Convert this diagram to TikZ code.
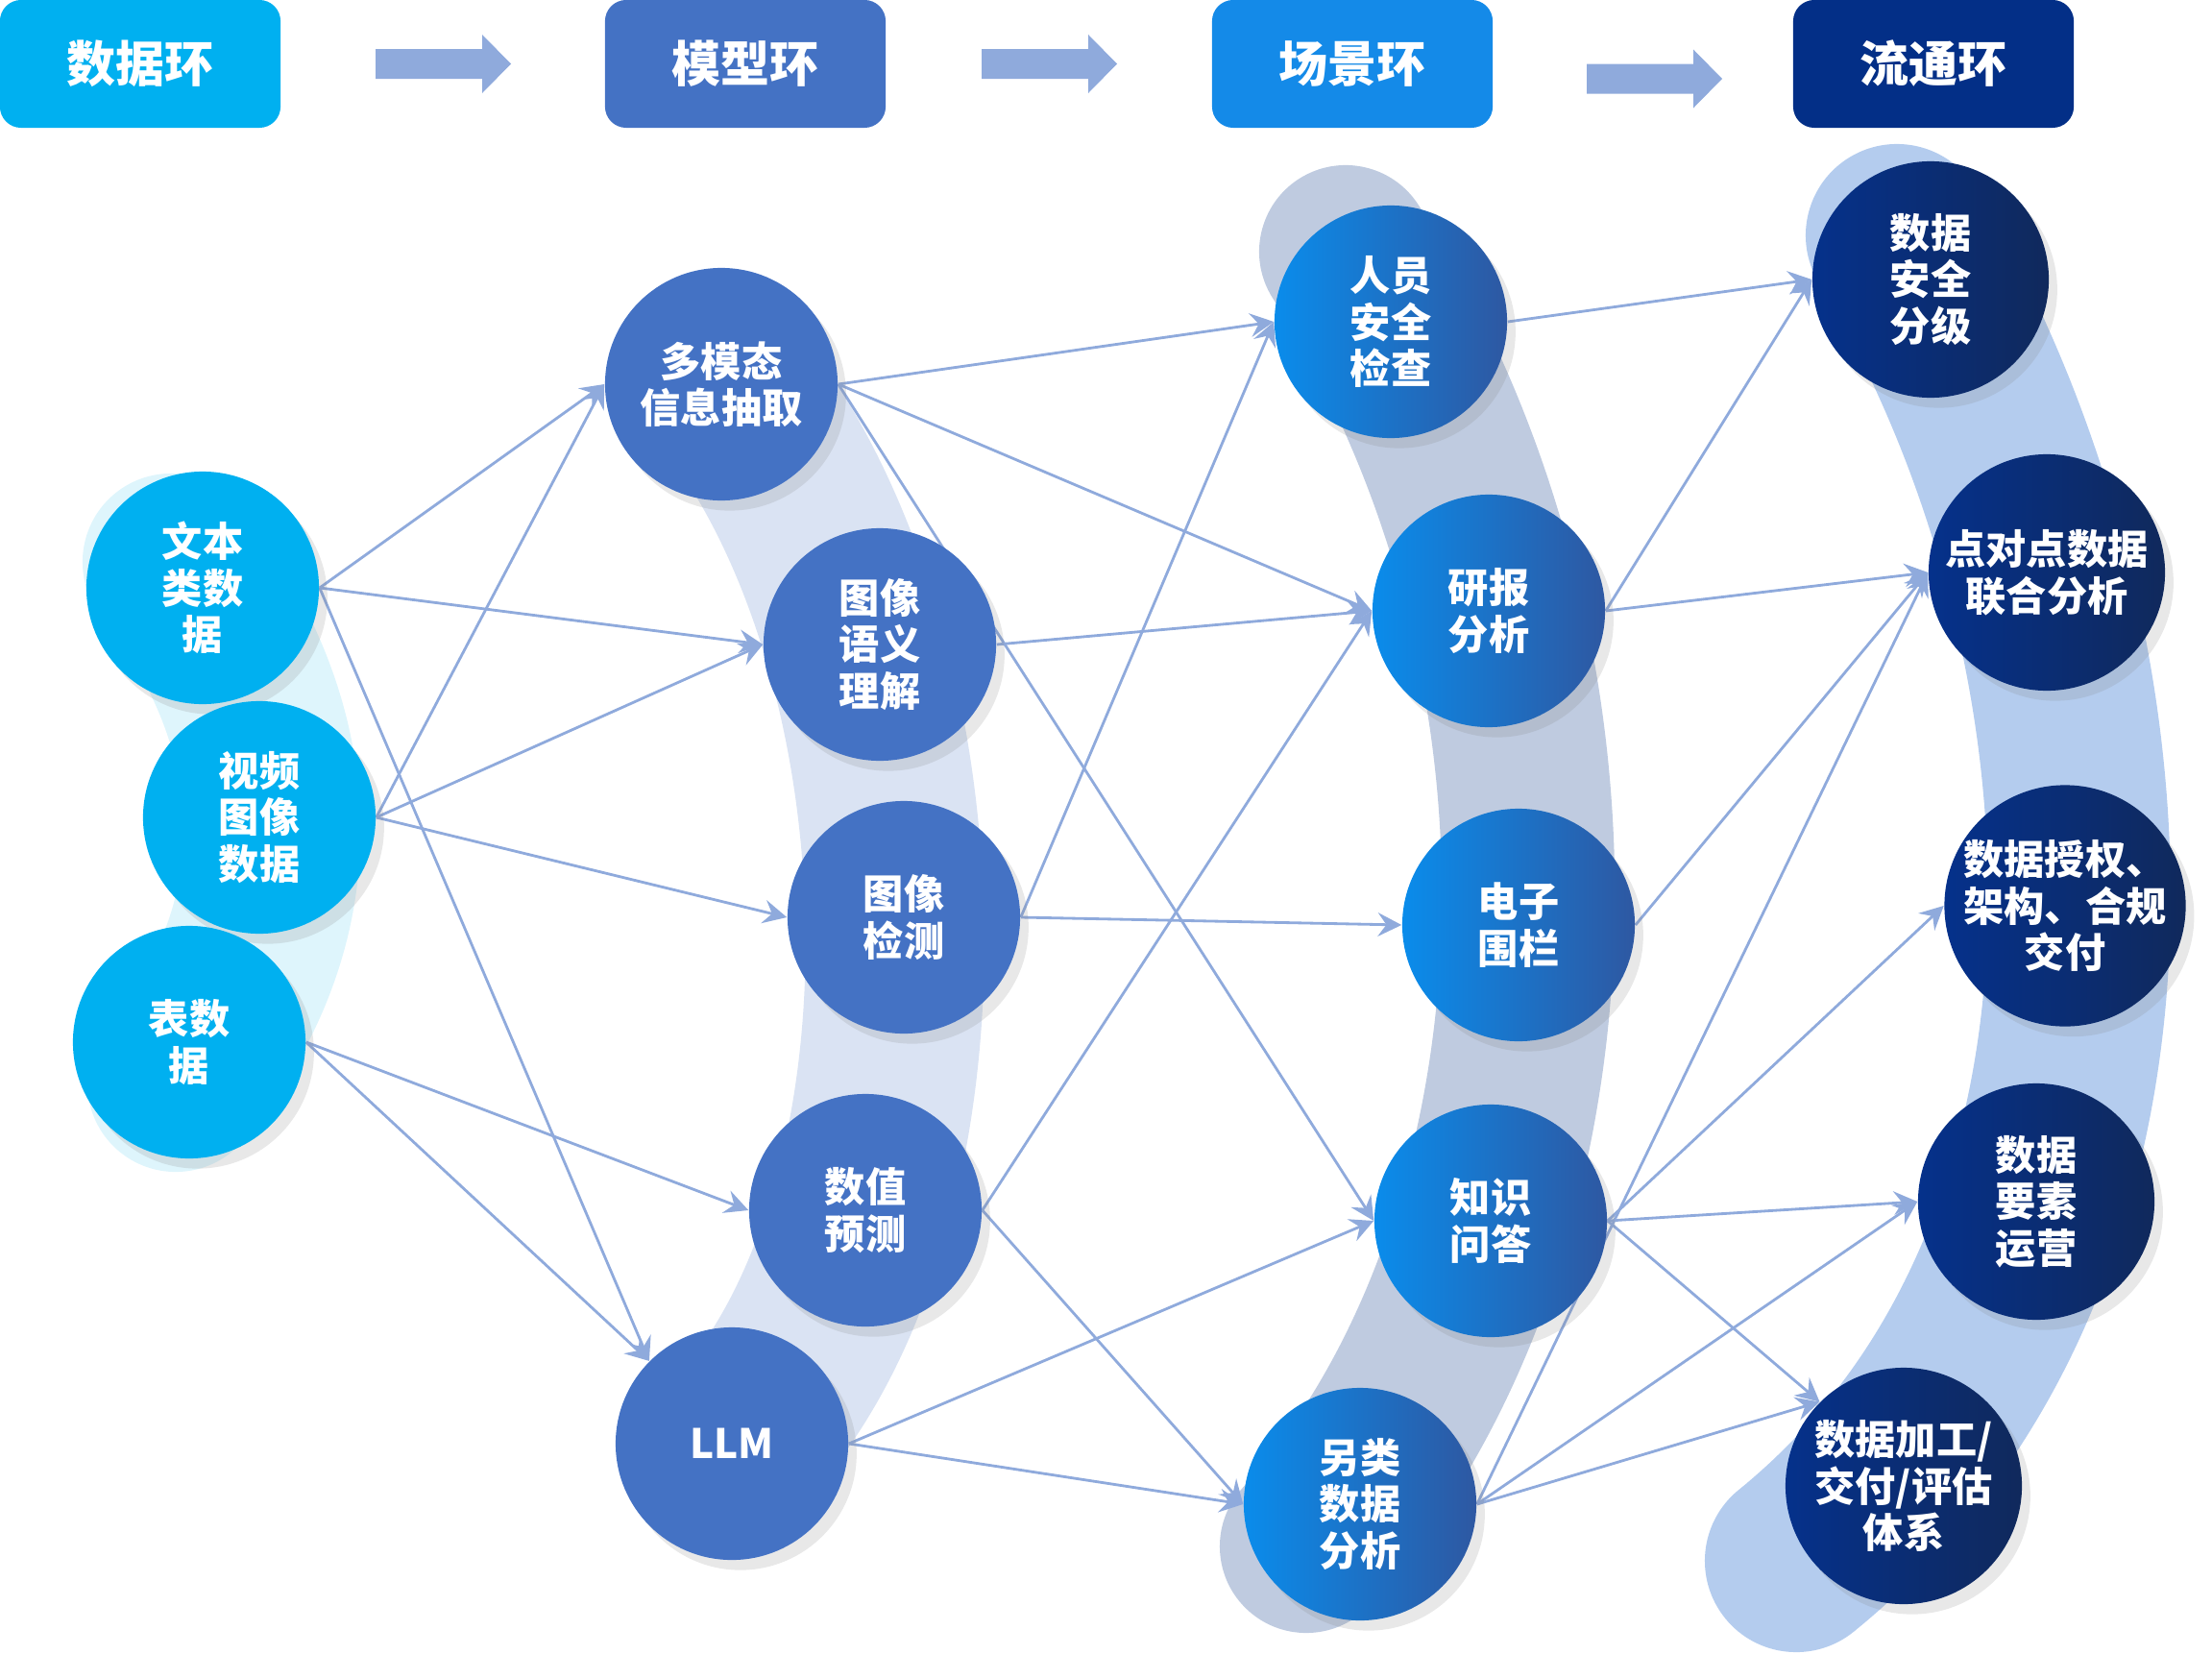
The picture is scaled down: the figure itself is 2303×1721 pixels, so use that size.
\documentclass[tikz,border=0pt]{standalone}
\usepackage{fontspec}
\newfontfamily\cjk{Noto Sans CJK SC}
\usetikzlibrary{positioning,arrows.meta,shadows}
\pgfdeclarelayer{band}
\pgfdeclarelayer{bg}
\pgfsetlayers{band,bg,main}
\definecolor{cdata}{HTML}{00B0F0}
\definecolor{cmodel}{HTML}{4472C4}
\definecolor{cscene}{HTML}{148AE8}
\definecolor{cscenel}{HTML}{0A8CEB}
\definecolor{cscener}{HTML}{2E58A2}
\definecolor{cflow}{HTML}{032F87}
\definecolor{cflowl}{HTML}{05318B}
\definecolor{cflowr}{HTML}{10295C}
\definecolor{carrow}{HTML}{8FAADC}
\definecolor{clink}{HTML}{8FAADC}
\definecolor{bdata}{HTML}{DEF5FC}
\definecolor{bmodel}{HTML}{DAE3F3}
\definecolor{bscene}{HTML}{BFCBE0}
\definecolor{bflow}{HTML}{B4CCEE}

\begin{document}
\begin{tikzpicture}[x=0.01cm, y=-0.01cm]
	\tikzstyle{every node}=[text=white, align=center, font=\cjk\bfseries\fontsize{12}{13.8}\selectfont]
	\tikzstyle{ring}=[rounded corners=0.22cm, minimum width=2.92cm, minimum height=1.33cm, font=\cjk\bfseries\fontsize{14.5}{17}\selectfont]
	\tikzstyle{ball}=[circle, minimum size=2.42cm, inner sep=0pt, drop shadow={shadow xshift=2.5pt, shadow yshift=-3pt, opacity=0.18}]
	\tikzstyle{data}=[ball, fill=cdata]
	\tikzstyle{model}=[ball, fill=cmodel]
	\tikzstyle{scene}=[ball, left color=cscenel, right color=cscener]
	\tikzstyle{flow}=[ball, minimum size=2.46cm, left color=cflowl, right color=cflowr]
	\tikzstyle{link}=[draw=clink, line width=0.8pt, -{Stealth[length=7pt, width=7pt, inset=2.5pt]}]
	\tikzstyle{band}=[line cap=round]

	\useasboundingbox (0,0) rectangle (2303,1721);

	% headers
	\draw (146,66.5) node (hdata) [ring, fill=cdata] {数据环};
	\draw (776,66.5) node (hmodel) [ring, fill=cmodel] {模型环};
	\draw (1408,66.5) node (hscene) [ring, fill=cscene] {场景环};
	\draw (2013,66.5) node (hflow) [ring, fill=cflow] {流通环};
	\foreach \x/\y in {391/66.5, 1022/66.5, 1652/82}
		\fill[carrow] (\x,\y-15.5) -- (\x+111,\y-15.5) -- (\x+111,\y-30.5) -- (\x+141,\y) -- (\x+111,\y+30.5) -- (\x+111,\y+15.5) -- (\x,\y+15.5) -- cycle;

	% data
	\draw (211,612) node (txt) [data] {文本\\类数\\据};
	\draw (270,851) node (vid) [data] {视频\\图像\\数据};
	\draw (197,1085) node (tab) [data] {表数\\据};
	% models
	\draw (751,400) node (mm) [model] {多模态\\信息抽取};
	\draw (916,671) node (sem) [model] {图像\\语义\\理解};
	\draw (941,955) node (det) [model] {图像\\检测};
	\draw (901,1260) node (num) [model] {数值\\预测};
	\draw (762,1503) node (llm) [model] {LLM};
	% scenes
	\draw (1448,335) node (ppl) [scene] {人员\\安全\\检查};
	\draw (1550,636) node (rpt) [scene] {研报\\分析};
	\draw (1581,963) node (fence) [scene] {电子\\围栏};
	\draw (1552,1271) node (qa) [scene] {知识\\问答};
	\draw (1416,1566) node (alt) [scene] {另类\\数据\\分析};
	% flow
	\draw (2010,291) node (sec) [flow] {数据\\安全\\分级};
	\draw (2131,596) node (p2p) [flow] {点对点数据\\联合分析};
	\draw (2150,943) node (auth) [flow] {数据授权、\\架构、合规\\交付};
	\draw (2120,1251) node (ops) [flow] {数据\\要素\\运营};
	\draw (1982,1547) node (proc) [flow] {数据加工/\\交付/评估\\体系};

	\begin{pgfonlayer}{band}
	\draw[band, line width=1.84cm, bdata] (178,585) .. controls (315,760) and (320,960) .. (183,1128);
	\draw[band, line width=1.86cm, bmodel] (740,380) .. controls (980,650) and (1000,1250) .. (770,1500);
	\draw[band, line width=1.8cm, bscene] (1401,262) .. controls (1680,700) and (1640,1300) .. (1360,1610);
	\draw[band, line width=1.9cm, bflow] (1975,245) .. controls (2220,650) and (2270,1300) .. (1870,1625);
	\end{pgfonlayer}

	\begin{pgfonlayer}{bg}
	\draw [link] (txt.east) to (mm.west);
	\draw [link] (txt.east) to (sem.west);
	\draw [link] (txt.east) to (llm.north west);
	\draw [link] (vid.east) to (mm.west);
	\draw [link] (vid.east) to (sem.west);
	\draw [link] (vid.east) to (det.west);
	\draw [link] (tab.east) to (num.west);
	\draw [link] (tab.east) to (llm.north west);

	\draw [link] (mm.east) to (ppl.west);
	\draw [link] (mm.east) to (rpt.west);
	\draw [link] (mm.east) to (qa.west);
	\draw [link] (sem.east) to (rpt.west);
	\draw [link] (det.east) to (ppl.west);
	\draw [link] (det.east) to (fence.west);
	\draw [link] (num.east) to (rpt.west);
	\draw [link] (num.east) to (alt.west);
	\draw [link] (llm.east) to (qa.west);
	\draw [link] (llm.east) to (alt.west);

	\draw [link] (ppl.east) to (sec.west);
	\draw [link] (rpt.east) to (sec.west);
	\draw [link] (rpt.east) to (p2p.west);
	\draw [link] (fence.east) to (p2p.west);
	\draw [link] (qa.east) to (auth.west);
	\draw [link] (qa.east) to (ops.west);
	\draw [link] (qa.east) to (proc.north west);
	\draw [link] (alt.east) to (p2p.west);
	\draw [link] (alt.east) to (ops.west);
	\draw [link] (alt.east) to (proc.north west);
	\end{pgfonlayer}
\end{tikzpicture}
\end{document}
